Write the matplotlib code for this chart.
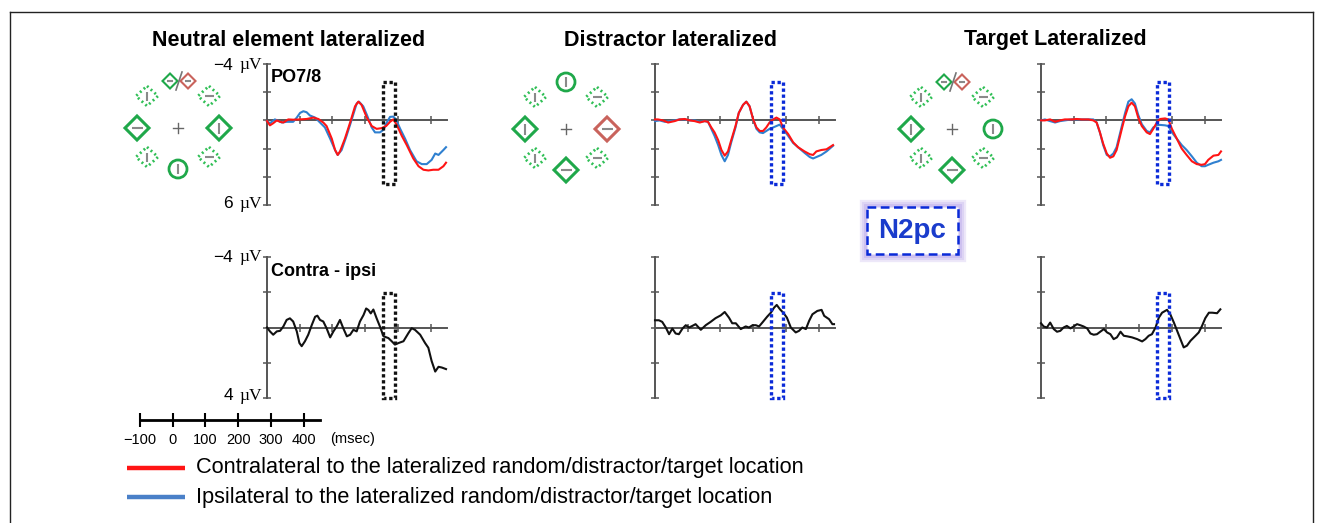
import matplotlib
matplotlib.use('Agg')
import matplotlib.pyplot as plt
from matplotlib.patches import Polygon, Circle, Rectangle

plt.rcParams['font.family'] = ['Liberation Sans', 'DejaVu Sans']

W, H = 1323, 523

# ---------------- data ----------------
titles = ["Neutral element lateralized", "Distractor lateralized", "Target Lateralized"]
top_label = "PO7/8"
bottom_label = "Contra - ipsi"
legend_labels = ["Contralateral to the lateralized random/distractor/target location",
                 "Ipsilateral to the lateralized random/distractor/target location"]
scale_ticks = [-100, 0, 100, 200, 300, 400]
scale_ticklabels = ["\u2212100", "0", "100", "200", "300", "400"]
n2pc_window = [253, 290]  # ms

# Panel 1 (neutral element lateralized), PO7/8
t1_red = [-100,-91,-81,-70,-60,-50,-35,-20,1,21,42,57,72,82,98,108,116,123,138,154,169,179,189,205,220,235,250,264,276,286,296,312,327,347,363,378,393,408,424,439,447]
v1_red = [0.05,0.35,0.2,0.0,0.1,0.15,-0.07,-0.05,-0.07,-0.1,-0.2,-0.1,0.15,0.4,1.3,2.1,2.45,2.2,1.3,0.15,-1.0,-1.33,-1.1,-0.2,0.4,0.6,0.55,0.4,0.1,-0.07,0.3,1.1,1.75,2.7,3.25,3.5,3.55,3.5,3.5,3.25,3.0]
t1_blue = [-100,-91,-76,-65,-55,-40,-20,-9,1,11,21,31,47,62,77,93,108,116,128,143,159,174,181,194,205,220,230,245,256,266,276,286,294,307,322,337,357,373,388,403,414,424,439,447]
v1_blue = [0.05,0.2,-0.07,0.03,0.15,0.1,0.1,-0.2,-0.53,-0.65,-0.58,-0.35,-0.2,0.15,0.5,1.3,2.1,2.45,2.1,1.1,-0.07,-1.2,-1.33,-1.0,-0.4,0.5,0.85,0.85,0.67,0.15,-0.25,-0.27,-0.07,0.6,1.3,2.1,2.9,3.1,3.1,2.8,2.35,2.45,2.1,1.9]

# Panel 2 (distractor lateralized)
t2_red = [-100,-91,-76,-60,-50,-40,-25,-9,6,21,37,52,62,72,82,93,103,113,123,133,146,156,169,179,189,200,210,220,230,240,250,261,271,281,291,307,322,337,357,373,383,393,408,424,434,444]
v2_red = [-0.07,-0.07,0.0,0.15,0.1,0.05,-0.07,-0.1,0.0,0.05,0.15,0.05,0.1,0.5,0.85,1.4,2.1,2.5,2.2,1.4,0.4,-0.53,-1.1,-1.33,-1.0,-0.07,0.5,0.75,0.75,0.5,0.15,-0.07,-0.2,-0.07,0.5,0.97,1.55,1.9,2.2,2.4,2.45,2.2,2.1,2.05,1.9,1.75]
t2_blue = [-100,-86,-70,-55,-40,-25,-9,6,21,37,52,62,72,82,93,103,113,123,133,146,156,169,179,189,200,210,220,230,240,250,261,271,281,291,307,322,337,357,373,383,393,408,424,434,444]
v2_blue = [0.05,0.0,0.1,0.05,0.0,-0.07,-0.07,0.0,0.0,0.1,0.05,0.1,0.6,1.1,1.75,2.45,2.9,2.45,1.55,0.5,-0.53,-1.1,-1.33,-1.0,-0.07,0.6,0.85,0.9,0.75,0.6,0.5,0.4,0.3,0.6,1.1,1.6,1.9,2.3,2.6,2.7,2.6,2.45,2.2,2.0,1.8]

# Panel 3 (target lateralized)
t3 = [-100,-88,-72,-57,-42,-27,-6,9,24,45,60,70,80,90,101,111,121,131,147,157,167,177,187,197,208,223,233,243,254,264,279,289,300,315,330,345,361,376,391,401,411,427,442,450]
v3_red = [0.0,0.0,-0.07,0.1,0.0,-0.07,-0.07,-0.1,-0.07,-0.07,0.0,0.15,0.85,1.65,2.35,2.65,2.55,2.1,0.6,-0.3,-1.0,-1.26,-1.0,-0.2,0.4,0.85,0.97,0.6,0.15,-0.1,-0.14,-0.07,0.6,1.3,2.0,2.45,2.9,3.1,3.15,3.1,2.8,2.5,2.45,2.2]
v3_blue = [0.0,-0.07,0.05,0.15,0.05,0.0,-0.07,-0.07,-0.07,-0.07,-0.07,0.15,0.85,1.75,2.45,2.55,2.35,1.9,0.4,-0.53,-1.33,-1.5,-1.2,-0.4,0.27,0.75,0.85,0.5,0.35,0.32,0.35,0.4,0.85,1.3,1.75,2.1,2.55,3.0,3.25,3.25,3.15,3.0,2.9,2.8]

# Difference waves (contra - ipsi)
td1 = [-100,-91,-81,-70,-60,-50,-40,-30,-20,-9,-1,6,16,26,37,47,54,62,72,82,93,103,113,123,133,144,154,164,174,184,195,203,210,217,225,235,245,256,271,281,291,302,317,332,342,352,368,383,393,403,414,424,434,447]
vd1 = [0,0.22,0.41,0.22,0.19,-0.06,-0.43,-0.52,-0.34,0.22,0.88,1.06,0.78,0.41,-0.15,-0.61,-0.67,-0.43,-0.34,0.04,0.56,0.22,-0.06,-0.43,0.04,0.5,0.41,0.13,0.22,-0.34,-0.71,-1.08,-0.99,-0.8,-1.02,-0.52,-0.06,0.5,0.6,0.78,0.97,0.88,0.78,0.32,0.04,0.13,0.41,0.88,1.15,1.9,2.5,2.23,2.27,2.36]
td2 = [-100,-88,-78,-67,-57,-47,-37,-27,-16,-6,4,14,24,40,55,70,85,101,113,126,136,147,162,177,187,198,208,218,228,243,254,264,272,282,292,303,315,330,340,350,361,371,381,396,409,417,432,442,447]
vd2 = [-0.41,-0.41,-0.32,0,0.38,0.06,0.34,0.38,0.06,-0.13,0,-0.09,-0.19,0.13,-0.13,-0.32,-0.53,-0.69,-0.88,-0.56,-0.24,-0.24,0.09,-0.06,0,-0.13,-0.13,-0.06,-0.28,-0.62,-0.84,-1.13,-1.28,-1.03,-0.84,-0.56,0,0.28,0.19,0,0.09,-0.38,-0.75,-0.94,-1.0,-0.66,-0.47,-0.19,-0.19]
td3 = [-100,-92,-82,-72,-61,-51,-41,-31,-21,-10,0,10,20,30,41,51,61,71,81,92,102,112,122,132,143,153,163,178,194,209,219,229,239,250,260,270,285,295,306,316,326,336,346,357,372,382,392,402,413,423,438,448]
vd3 = [-0.24,-0.06,0,-0.28,0.09,0.24,0.19,0,-0.09,0.05,-0.06,-0.19,-0.13,-0.06,0.05,0.34,0.41,0.38,0.24,0.09,0.28,0.38,0.66,0.56,0.24,0.47,0.5,0.56,0.66,0.79,0.66,0.47,0.38,0,-0.56,-0.84,-1.0,-0.75,-0.28,0.19,0.66,1.13,1.03,0.75,0.47,0.28,-0.09,-0.53,-0.84,-0.84,-0.81,-1.03]

top_series = [((t1_red, v1_red), (t1_blue, v1_blue)),
              ((t2_red, v2_red), (t2_blue, v2_blue)),
              ((t3, v3_red), (t3, v3_blue))]
diff_series = [(td1, vd1), (td2, vd2), (td3, vd3)]

# stimulus displays: item code at each ring position
displays = [
    {'T': 'pair', 'TL': 'dot|', 'TR': 'dot-', 'L': 'dia-', 'R': 'dia|', 'BL': 'dot|', 'BR': 'dot-', 'B': 'circ|'},
    {'T': 'circ|', 'TL': 'dot|', 'TR': 'dot-', 'L': 'dia|', 'R': 'red-', 'BL': 'dot|', 'BR': 'dot-', 'B': 'dia-'},
    {'T': 'pair', 'TL': 'dot|', 'TR': 'dot-', 'L': 'dia|', 'R': 'circ|', 'BL': 'dot|', 'BR': 'dot-', 'B': 'dia-'},
]

# ---------------- style / layout ----------------
RED = '#ff1414'
BLUE = '#2f80d0'
AX_C = '#555555'
GREEN = '#1fa84a'
DOTGREEN = '#2fbf55'
STIM_RED = '#c9635c'
BAR = '#8a8a8a'
BOX_BLUE = '#0a2ad8'

fig = plt.figure(figsize=(W / 100, H / 100), dpi=100)
fig.patch.set_facecolor('white')

ov = fig.add_axes([0, 0, 1, 1], zorder=0)
ov.set_xlim(0, W)
ov.set_ylim(H, 0)
ov.axis('off')


def px_axes(x0, ytop, w, h, z=2):
    a = fig.add_axes([x0 / W, 1 - (ytop + h) / H, w / W, h / H], zorder=z)
    a.patch.set_alpha(0)
    return a


def style_erp(a, ylim, yticks):
    a.set_xlim(-100, 450)
    a.set_ylim(*ylim)
    for s in ['top', 'right']:
        a.spines[s].set_visible(False)
    a.spines['bottom'].set_position(('data', 0))
    for s in ['left', 'bottom']:
        a.spines[s].set_color(AX_C)
        a.spines[s].set_linewidth(1.4)
    a.set_xticks([0, 100, 200, 300, 400])
    a.set_yticks(yticks)
    a.tick_params(direction='inout', length=6, width=1.1, colors=AX_C,
                  labelleft=False, labelbottom=False)


axis_x = [267, 655, 1041]
box_colors = ['#111111', BOX_BLUE, BOX_BLUE]

for i in range(3):
    # top row
    a = px_axes(axis_x[i], 64, 180, 141)
    style_erp(a, (6, -4), [-4, -2, 0, 2, 4, 6])
    (tr, vr), (tb, vb) = top_series[i]
    a.plot(tb, vb, color=BLUE, lw=1.5, clip_on=False, zorder=3)
    a.plot(tr, vr, color=RED, lw=1.5, clip_on=False, zorder=4)
    a.add_patch(Rectangle((n2pc_window[0], -2.75), n2pc_window[1] - n2pc_window[0], 7.25,
                          fill=False, ec=box_colors[i], lw=2.4, ls=(0, (1, 0.8)),
                          clip_on=False, zorder=5))
    # bottom row
    b = px_axes(axis_x[i], 257, 180, 141)
    style_erp(b, (4, -4), [-4, -2, 0, 2, 4])
    td, vd = diff_series[i]
    b.plot(td, vd, color='#111111', lw=1.5, clip_on=False, zorder=3)
    b.add_patch(Rectangle((n2pc_window[0], -1.95), n2pc_window[1] - n2pc_window[0], 5.95,
                          fill=False, ec=box_colors[i], lw=2.4, ls=(0, (1, 0.8)),
                          clip_on=False, zorder=5))

# titles
title_x = [289, 670, 1055]
for i, t in enumerate(titles):
    ov.text(title_x[i], 40, t, ha='center', va='center', fontsize=15.5, fontweight='bold')

ov.text(271, 78, top_label, ha='left', va='center', fontsize=13, fontweight='bold')
ov.text(271, 271, bottom_label, ha='left', va='center', fontsize=13, fontweight='bold')

# µV labels
for num, y in [("\u22124", 65), ("6", 204), ("\u22124", 257), ("4", 396)]:
    ov.text(233, y, num, ha='right', va='center', fontsize=12.5)
    ov.text(239, y, "\u00b5V", ha='left', va='center', fontsize=12.5,
            family=['Liberation Serif', 'DejaVu Serif'])

# stimulus displays
centers = [(178, 128), (566, 129), (952, 129)]
ring = {'T': (0, -47), 'TL': (-31, -32), 'TR': (31, -32), 'L': (-41, 0), 'R': (41, 0),
        'BL': (-31, 29), 'BR': (31, 29), 'B': (0, 41)}


def bar(x, y, orient, ln):
    if orient == '|':
        ov.plot([x, x], [y - ln / 2, y + ln / 2], color=BAR, lw=1.5, solid_capstyle='butt')
    else:
        ov.plot([x - ln / 2, x + ln / 2], [y, y], color=BAR, lw=1.5, solid_capstyle='butt')


def diamond(x, y, rx, ry, color, lw, ls='-'):
    ov.add_patch(Polygon([(x, y - ry), (x + rx, y), (x, y + ry), (x - rx, y)], closed=True,
                         fill=False, ec=color, lw=lw, ls=ls, joinstyle='miter'))


def item(code, x, y):
    if code == 'pair':
        diamond(x - 8, y, 7.5, 7.5, GREEN, 1.5)
        bar(x - 8, y, '-', 6)
        diamond(x + 10, y, 7.5, 7.5, STIM_RED, 1.5)
        bar(x + 10, y, '-', 6)
        ov.plot([x - 2, x + 4], [y + 9, y - 9], color='#777777', lw=1.2)
    elif code.startswith('dot'):
        diamond(x, y, 11, 10, DOTGREEN, 2.0, ls=(0, (0.7, 1.1)))
        bar(x, y, code[-1], 9)
    elif code.startswith('dia'):
        diamond(x, y, 12, 12, GREEN, 2.2)
        bar(x, y, code[-1], 11)
    elif code.startswith('red'):
        diamond(x, y, 12, 12, STIM_RED, 2.2)
        bar(x, y, code[-1], 11)
    elif code.startswith('circ'):
        ov.add_patch(Circle((x, y), 9, fill=False, ec=GREEN, lw=2.0))
        bar(x, y, code[-1], 10)


for (cx, cy), disp in zip(centers, displays):
    ov.plot([cx - 5, cx + 5], [cy, cy], color='#666666', lw=1.0)
    ov.plot([cx, cx], [cy - 5, cy + 5], color='#666666', lw=1.0)
    for pos, code in disp.items():
        dx, dy = ring[pos]
        item(code, cx + dx, cy + dy)

# N2pc box with glow
for lw, al in [(11, 0.25), (8, 0.3), (5, 0.4)]:
    ov.add_patch(Rectangle((867, 207), 91, 47, fill=False, ec='#b9a6ea', lw=lw, alpha=al))
ov.add_patch(Rectangle((867, 207), 91, 47, fc='white', ec=BOX_BLUE, lw=1.8, ls=(0, (3.5, 1.8))))
ov.text(912.5, 231, "N2pc", ha='center', va='center', fontsize=20, fontweight='bold', color='#1a3ccc')

# time scale bar
sb = px_axes(140, 415, 180, 10, z=2)
sb.set_xlim(-100, 450)
sb.set_ylim(-1, 1)
for s in ['top', 'right', 'left']:
    sb.spines[s].set_visible(False)
sb.spines['bottom'].set_position(('data', 0))
sb.spines['bottom'].set_linewidth(2.0)
sb.set_yticks([])
sb.set_xticks(scale_ticks)
sb.set_xticklabels(scale_ticklabels)
sb.tick_params(axis='x', direction='inout', length=10, width=1.5, pad=4, labelsize=10.5)
ov.text(330, 439, "(msec)", ha='left', va='center', fontsize=10.5)

# legend
ov.plot([127, 185], [468, 468], color=RED, lw=3.2, solid_capstyle='butt')
ov.plot([127, 185], [497, 497], color='#4a80c8', lw=3.2, solid_capstyle='butt')
ov.text(196, 468, legend_labels[0], ha='left', va='center', fontsize=15.7)
ov.text(196, 497, legend_labels[1], ha='left', va='center', fontsize=15.7)

# frame
ov.plot([10, 1313], [12, 12], color='#222222', lw=1.0)
ov.plot([10, 10], [12, H], color='#222222', lw=1.0)
ov.plot([1313, 1313], [12, H], color='#222222', lw=1.0)

fig.savefig('out.png', dpi=100, facecolor='white')
